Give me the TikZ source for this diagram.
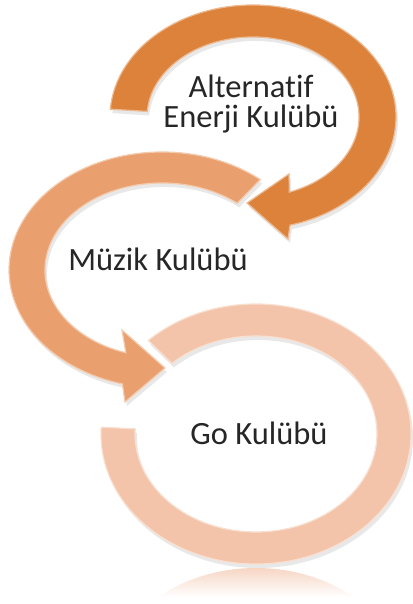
\documentclass[tikz,border=0pt]{standalone}
\usepackage{fontspec}
\setmainfont[Ligatures=NoCommon]{Carlito}
\usetikzlibrary{calc,shadows}

\definecolor{ringA}{RGB}{220,130,58}
\definecolor{ringB}{RGB}{234,160,110}
\definecolor{ringC}{RGB}{243,196,170}

\begin{document}
\begin{tikzpicture}[x=1pt, y=1pt,
    ring/.style={fill=#1, draw=#1!55!white, line width=1.2pt,
        drop shadow={opacity=0.18, shadow xshift=2pt, shadow yshift=-4pt}},
    club/.style={font=\fontsize{32.5}{27}\selectfont, align=center, text=black!85}]

    % Page frame
    \useasboundingbox (0,0) rectangle (412,604);

    % Ring centres
    \coordinate (c1) at (253,487);
    \coordinate (c2) at (162,334);
    \coordinate (c3) at (256,170);

    % First ring, clockwise with arrow
    \path[ring=ringA] ($(c1)+(176:143 and 112)$)
        arc[start angle=176, end angle=-75, x radius=143, y radius=112]
        -- (288,365) -- (247,401) -- (289,430)
        -- ($(c1)+(-70:106 and 80)$)
        arc[start angle=-70, end angle=176, x radius=106, y radius=80] -- cycle;

    % Second ring, anticlockwise with arrow
    \path[ring=ringB] ($(c2)+(50:153 and 118)$)
        arc[start angle=50, end angle=255, x radius=153, y radius=118]
        -- (125,202) -- (165,236) -- (122,274)
        -- ($(c2)+(252:117 and 87)$)
        arc[start angle=252, end angle=50, x radius=117, y radius=87] -- cycle;

    % Third ring, no arrow
    \path[ring=ringC] ($(c3)+(177:155 and 130)$)
        arc[start angle=177, end angle=494, x radius=155, y radius=130]
        -- ($(c3)+(494:121 and 98)$)
        arc[start angle=494, end angle=177, x radius=121, y radius=98] -- cycle;

    % Reflection under the last ring
    \begin{scope}
        \clip (256,-94) ellipse[x radius=155, y radius=130];
        \shade[top color=ringC!70!white, bottom color=white] (90,7) rectangle (420,36);
    \end{scope}

    % Labels
    \node[club] (alt) at (251,500) {Alternatif\\[3pt]Enerji Kulübü};
    \node[club] (muz) at (158,345) {Müzik Kulübü};
    \node[club] (go) at (259,171) {Go Kulübü};
\end{tikzpicture}
\end{document}
